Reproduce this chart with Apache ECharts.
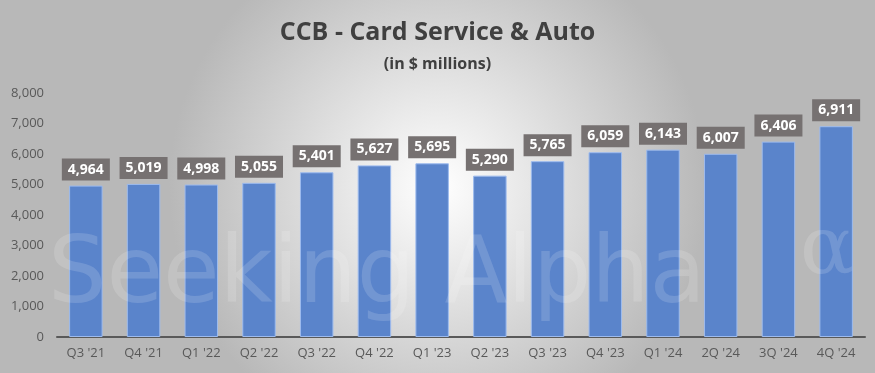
<!DOCTYPE html>
<html><head><meta charset="utf-8">
<script src="https://cdn.jsdelivr.net/npm/echarts@6/dist/echarts.min.js"></script>
<style>html,body{margin:0;padding:0}#c{width:875px;height:373px}</style>
</head><body><div id="c"></div>
<script>
const categories = ["Q3 '21","Q4 '21","Q1 '22","Q2 '22","Q3 '22","Q4 '22","Q1 '23","Q2 '23","Q3 '23","Q4 '23","Q1 '24","2Q '24","3Q '24","4Q '24"];
const values = [4964,5019,4998,5055,5401,5627,5695,5290,5765,6059,6143,6007,6406,6911];
const yTicks = {min:0, max:8000, interval:1000};

const chart = echarts.init(document.getElementById('c'));
chart.setOption({
  backgroundColor: {type:'radial', x:0.5, y:0.5, r:0.72, colorStops:[{offset:0,color:'#ffffff'},{offset:1,color:'#b8b8b8'}]},
  title: [
    {text:'CCB - Card Service & Auto', left:'center', top:15, textStyle:{fontFamily:'Open Sans', fontWeight:'bold', fontSize:25, color:'#404040'}},
    {text:'(in $ millions)', left:'center', top:51, textStyle:{fontFamily:'Open Sans', fontWeight:'bold', fontSize:16, color:'#404040'}}
  ],
  graphic: [{type:'text', left:48, top:232, z:100, style:{text:'Seeking Alpha', font:'92px "DejaVu Sans"', fill:'rgba(255,255,255,0.15)'}},
            {type:'text', left:800, top:212, z:100, style:{text:'α', font:'80px "DejaVu Serif"', fill:'rgba(255,255,255,0.15)'}}],
  grid: {left:57, right:10, top:93, bottom:36},
  xAxis: {type:'category', data:categories,
    axisLine:{lineStyle:{color:'#595959', width:2}}, axisTick:{show:false},
    axisLabel:{color:'#595959', fontSize:13, fontFamily:'Open Sans', margin:10}},
  yAxis: {type:'value', min:yTicks.min, max:yTicks.max, interval:yTicks.interval,
    splitLine:{show:false}, axisLine:{show:false}, axisTick:{show:false},
    axisLabel:{color:'#595959', fontSize:13, fontFamily:'Open Sans', margin:13,
      formatter: v => v.toLocaleString('en-US')}},
  series: [{type:'bar', data:values, barWidth:'58%', z:2,
    itemStyle:{color:'#5A84CB', borderColor:'#9dbbee', borderWidth:1},
    label:{show:true, position:'top', distance:5, color:'#ffffff', fontWeight:'bold', fontSize:14, fontFamily:'Open Sans',
      backgroundColor:'#767171', padding:[4,6,4,6],
      formatter: p => p.value.toLocaleString('en-US')}}]
});
</script></body></html>
